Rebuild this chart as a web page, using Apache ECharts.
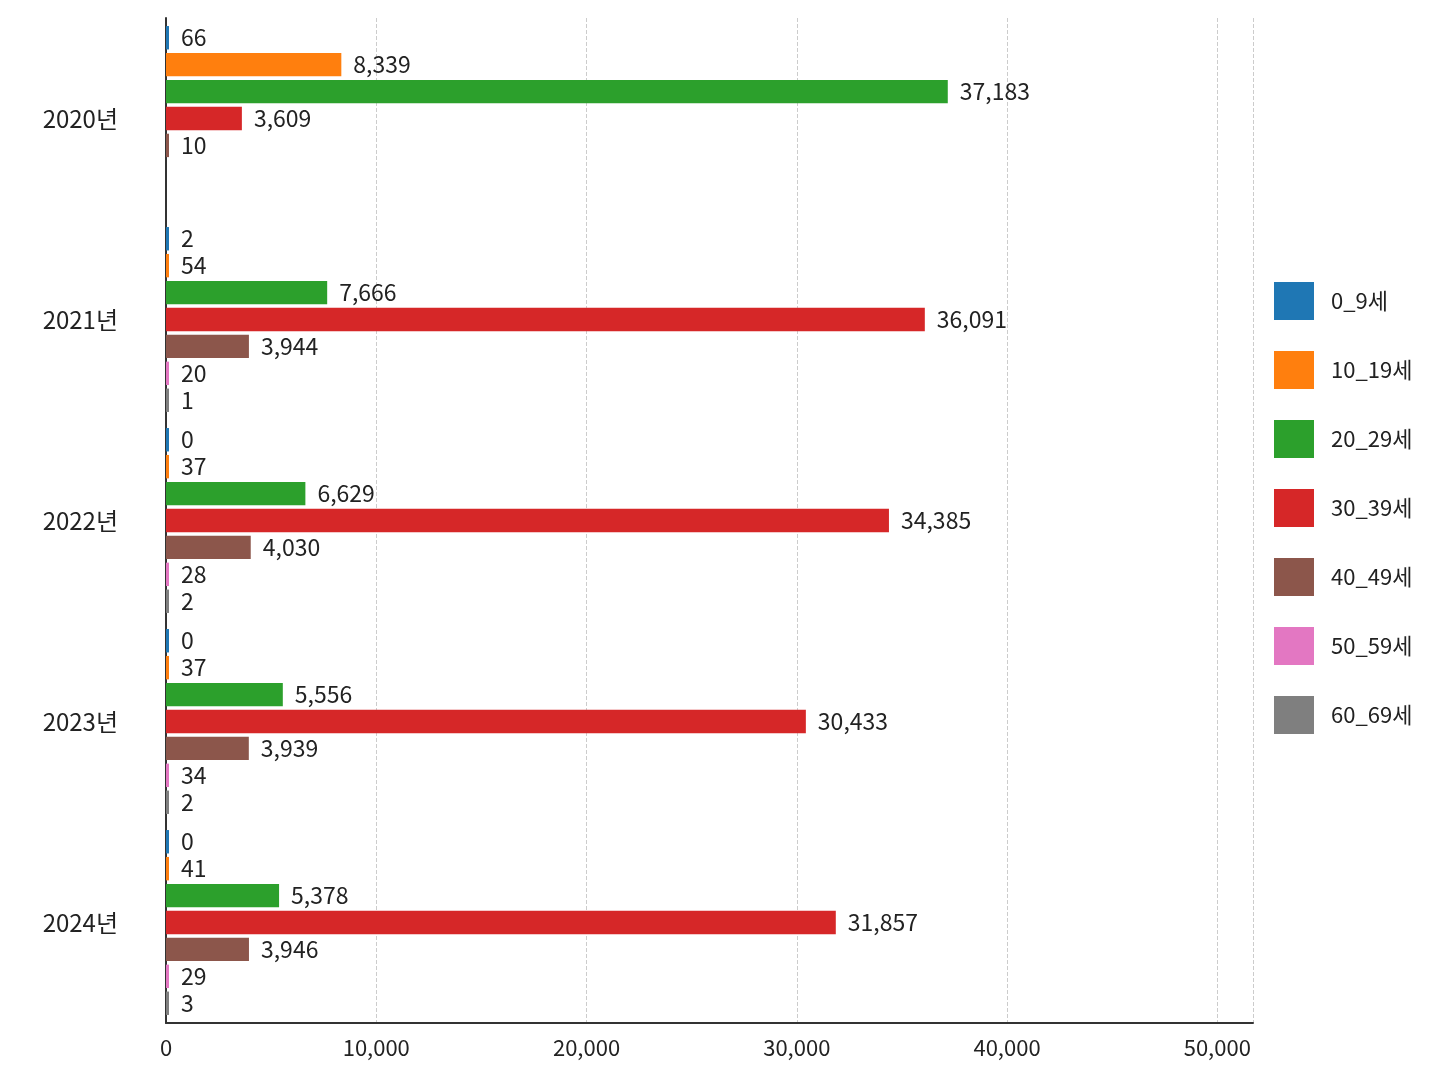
<!DOCTYPE html>
<html><head><meta charset="utf-8">
<script src="https://cdn.jsdelivr.net/npm/echarts@6/dist/echarts.min.js"></script>
<style>html,body{margin:0;background:#fff}#c{width:1448px;height:1086px}</style>
</head><body><div id="c"></div>
<script>
const categories = ['2020년','2021년','2022년','2023년','2024년'];
const seriesNames = ['0_9세','10_19세','20_29세','30_39세','40_49세','50_59세','60_69세'];
const colors = ['#1f77b4','#ff7f0e','#2ca02c','#d62728','#8c564b','#e377c2','#7f7f7f'];
const v0_9 = [66, 2, 0, 0, 0];
const v10_19 = [8339, 54, 37, 37, 41];
const v20_29 = [37183, 7666, 6629, 5556, 5378];
const v30_39 = [3609, 36091, 34385, 30433, 31857];
const v40_49 = [10, 3944, 4030, 3939, 3946];
const v50_59 = ['-', 20, 28, 34, 29];
const v60_69 = ['-', 1, 2, 2, 3];
const xTicks = [0, 10000, 20000, 30000, 40000, 50000];
const data = [v0_9, v10_19, v20_29, v30_39, v40_49, v50_59, v60_69];
const font = '"Noto Sans CJK KR", "Noto Sans", sans-serif';
const chart = echarts.init(document.getElementById('c'));
chart.setOption({
  animation: false,
  textStyle: {fontFamily: font},
  legend: {
    orient: 'vertical', left: 1269, top: 277, itemWidth: 40, itemHeight: 38, itemGap: 31,
    icon: 'rect', textStyle: {fontSize: 22, color: '#222', fontFamily: font, padding: [0, 0, 0, 12]},
    data: seriesNames
  },
  grid: {left: 166, right: 195, top: 18, bottom: 63, containLabel: false},
  xAxis: {
    type: 'value', min: 0, max: 51700, interval: 10000,
    axisLine: {show: true, lineStyle: {color: '#333', width: 2}},
    axisTick: {show: false},
    axisLabel: {fontSize: 22, color: '#222', showMaxLabel: false, margin: 14,
      formatter: v => xTicks.includes(v) ? v.toLocaleString('en-US') : ''},
    splitLine: {show: true, lineStyle: {type: 'dashed', color: '#ccc'}}
  },
  yAxis: {
    type: 'category', data: categories, inverse: true,
    axisLine: {show: true, lineStyle: {color: '#333', width: 2}},
    axisTick: {show: false},
    axisLabel: {fontSize: 24, color: '#222', margin: 48}
  },
  series: seriesNames.map((n, i) => ({
    name: n, type: 'bar', data: data[i], barGap: '15%', barCategoryGap: '8%', barMinHeight: 3,
    itemStyle: {color: colors[i]},
    label: {show: true, position: 'right', fontSize: 23, color: '#222', distance: 12,
      formatter: p => (typeof p.value === 'number') ? p.value.toLocaleString('en-US') : ''}
  }))
});
</script></body></html>
